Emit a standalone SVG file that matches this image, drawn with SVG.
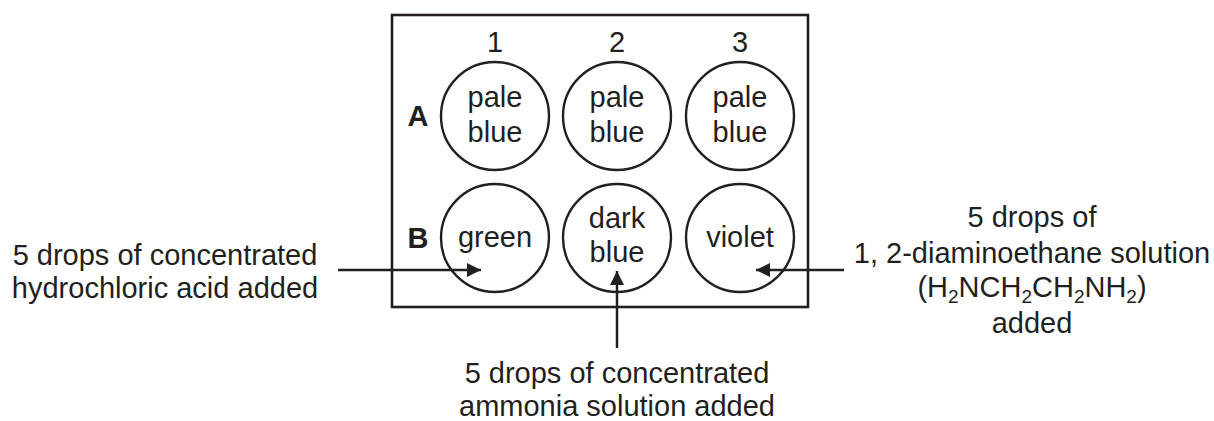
<svg xmlns="http://www.w3.org/2000/svg" width="1214" height="421" viewBox="0 0 1214 421">
<defs>
<style>
text{font-family:"Liberation Sans",Arial,sans-serif;font-size:29px;fill:#231f20;text-anchor:middle}
.b{font-weight:bold}
.well{fill:none;stroke:#231f20;stroke-width:2.4}
.plate{fill:#fff;stroke:#231f20;stroke-width:2.6}
.conn{stroke:#231f20;stroke-width:2.5;fill:none}
.sub{font-size:19px}
</style>
<marker id="ah" markerUnits="userSpaceOnUse" markerWidth="14" markerHeight="14" viewBox="0 0 14 14" refX="14" refY="7" orient="auto">
<path d="M0,0 L14,7 L0,14 Z" fill="#231f20"/>
</marker>
</defs>
<rect fill="#fff" width="1214" height="421"/>
<g id="plate">
<rect class="plate" x="392" y="15" width="416" height="292"/>
<text x="495" y="52">1</text>
<text x="617" y="52">2</text>
<text x="740" y="52">3</text>
<text class="b" x="418" y="126">A</text>
<text class="b" x="418" y="248">B</text>
</g>
<g id="A1"><circle class="well" cx="495" cy="116" r="54"/><text x="495" y="107">pale</text><text x="495" y="142">blue</text></g>
<g id="A2"><circle class="well" cx="617" cy="116" r="54"/><text x="617" y="107">pale</text><text x="617" y="142">blue</text></g>
<g id="A3"><circle class="well" cx="740" cy="116" r="54"/><text x="740" y="107">pale</text><text x="740" y="142">blue</text></g>
<g id="B1"><circle class="well" cx="495" cy="238" r="54"/><text x="495" y="247">green</text></g>
<g id="B2"><circle class="well" cx="617" cy="238" r="54"/><text x="617" y="228">dark</text><text x="617" y="262">blue</text></g>
<g id="B3"><circle class="well" cx="740" cy="238" r="54"/><text x="740" y="247">violet</text></g>
<g id="label-hcl"><text x="165" y="265">5 drops of concentrated</text><text x="165" y="298">hydrochloric acid added</text></g>
<g id="label-nh3"><text x="617" y="383">5 drops of concentrated</text><text x="617" y="416">ammonia solution added</text></g>
<g id="label-en">
<text x="1032" y="227">5 drops of</text>
<text x="1032" y="263">1, 2-diaminoethane solution</text>
<text x="1032" y="297">(H<tspan class="sub" dy="6">2</tspan><tspan dy="-6">NCH</tspan><tspan class="sub" dy="6">2</tspan><tspan dy="-6">CH</tspan><tspan class="sub" dy="6">2</tspan><tspan dy="-6">NH</tspan><tspan class="sub" dy="6">2</tspan><tspan dy="-6">)</tspan></text>
<text x="1032" y="333">added</text>
</g>
<g id="connectors">
<line class="conn" x1="338" y1="270" x2="481" y2="270" marker-end="url(#ah)"/>
<line class="conn" x1="617" y1="348" x2="617" y2="271" marker-end="url(#ah)"/>
<line class="conn" x1="844" y1="270" x2="756" y2="270" marker-end="url(#ah)"/>
</g>
</svg>
